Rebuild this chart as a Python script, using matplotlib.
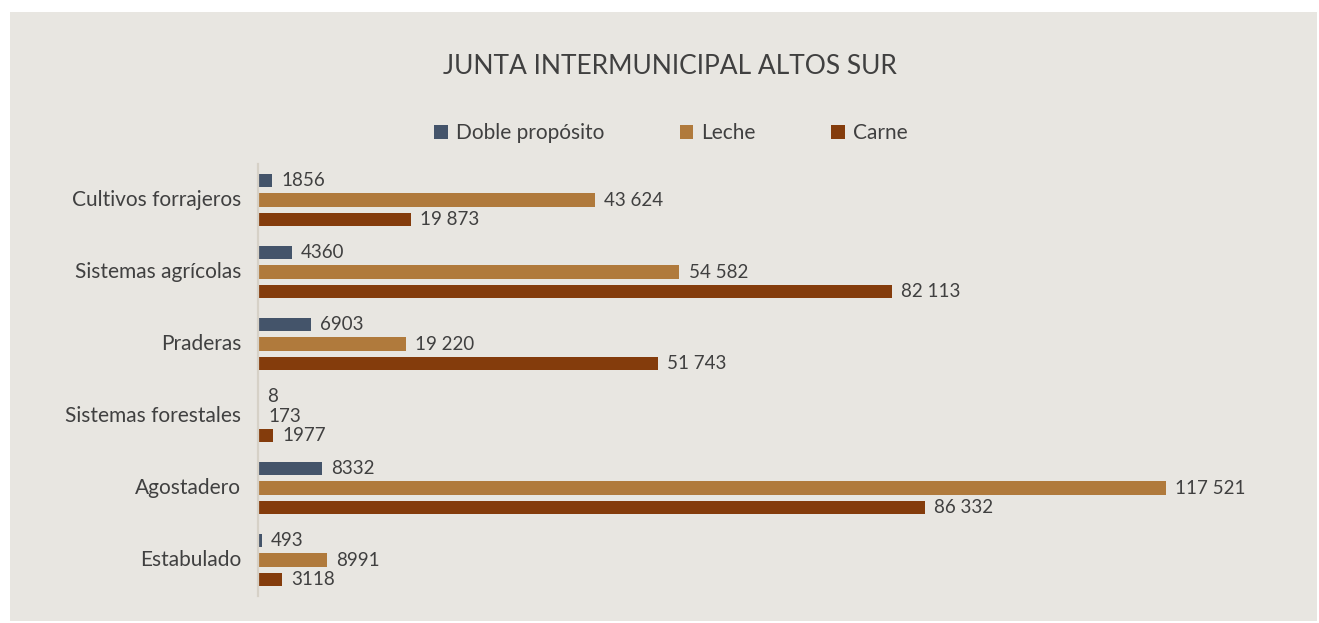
import matplotlib
matplotlib.use("Agg")
import matplotlib.pyplot as plt
from matplotlib.patches import Rectangle, Patch
import numpy as np

plt.rcParams['font.family'] = ['Lato', 'DejaVu Sans']

# data
categorias = ['Cultivos forrajeros', 'Sistemas agrícolas', 'Praderas',
              'Sistemas forestales', 'Agostadero', 'Estabulado']
series = ['Doble propósito', 'Leche', 'Carne']
doble = [1856, 4360, 6903, 8, 8332, 493]
leche = [43624, 54582, 19220, 173, 117521, 8991]
carne = [19873, 82113, 51743, 1977, 86332, 3118]

colores = ['#44546a', '#b07a3c', '#843c0c']
texto = '#404040'

W, H = 1319, 623
fig = plt.figure(figsize=(W / 100, H / 100), dpi=100)
fig.patch.set_facecolor('white')

# gray panel behind everything
panel = Rectangle((10 / W, 2 / H), 1307 / W, 609 / H, transform=fig.transFigure,
                  facecolor='#e8e6e1', edgecolor='none', zorder=-5)
fig.patches.append(panel)

ax = fig.add_axes([258 / W, 27 / H, (1290 - 258) / W, (596 - 164) / H])
ax.set_facecolor('none')
ax.set_zorder(2)

y = np.arange(len(categorias))
paso = 0.271
alto = 0.194
valores = [doble, leche, carne]

for i, (vals, col) in enumerate(zip(valores, colores)):
    pos = y + (i - 1) * paso
    ax.barh(pos, vals, height=alto, color=col, zorder=2)
    for p, v in zip(pos, vals):
        etiqueta = f"{v:,}".replace(",", " ") if v >= 10000 else str(v)
        ax.annotate(etiqueta, (v, p), xytext=(6.5, 0), textcoords='offset points',
                    ha='left', va='center', fontsize=13.5, color=texto)

ax.set_xlim(0, 133640)
ax.set_ylim(len(categorias) - 0.5, -0.5)
ax.set_yticks(y)
ax.set_yticklabels(categorias, fontsize=15, color=texto, va='center')
ax.tick_params(axis='y', length=0, pad=12)
ax.set_xticks([])
for s in ['top', 'right', 'bottom']:
    ax.spines[s].set_visible(False)
ax.spines['left'].set_color('#d6d1c7')
ax.spines['left'].set_linewidth(1.6)

fig.text(670 / W, 1 - 67 / H, 'JUNTA INTERMUNICIPAL ALTOS SUR', ha='center', va='center',
         fontsize=19, color=texto)

handles = [Patch(facecolor=c, edgecolor='none', label=s) for c, s in zip(colores, series)]
fig.legend(handles=handles, loc='center', bbox_to_anchor=(671 / W, 1 - 133 / H), ncol=3,
           frameon=False, fontsize=15, handlelength=0.65, handleheight=0.65,
           handletextpad=0.4, columnspacing=3.6, labelcolor=texto)

fig.savefig('out.png', dpi=100)
